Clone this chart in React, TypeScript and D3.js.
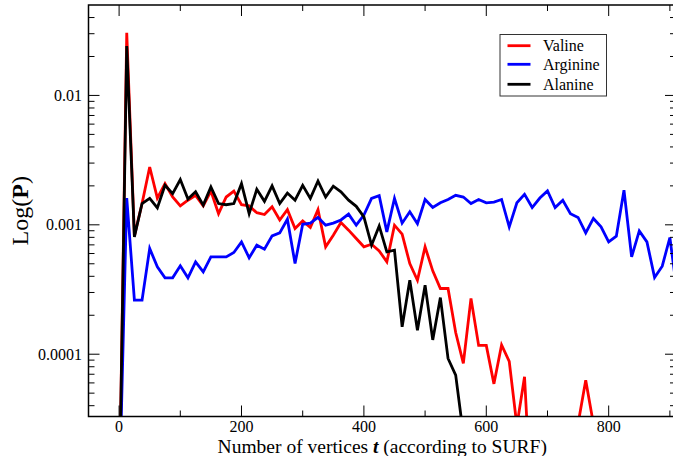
import React from "react";
import * as d3 from "d3";

// Probability of each residue type vs. number of vertices t (log scale).
const T_STEP = 12.5;

const valine: (number | null)[] = [
  6e-6, 0.0305, 0.00082, 0.00146, 0.0028, 0.00161, 0.00208, 0.00164, 0.0014, 0.00155,
  0.00169, 0.0014, 0.00182, 0.00122, 0.00164, 0.00182, 0.00143, 0.0014, 0.00124, 0.0012,
  0.00138, 0.00109, 0.00131, 0.000936, 0.00107, 0.000953, 0.00131, 0.000676, 0.000831, 0.00104,
  0.000909, 0.000783, 0.000676, 0.000708, 0.000629, 0.000517, 0.000993, 0.000846, 0.000502, 0.000373,
  0.000676, 0.000441, 0.000322, 0.000322, 0.000147, 0.0000849, 0.00027, 0.000117, 0.000117, 0.000059,
  0.000118, 0.000088, 0.000028, 0.000067, 5e-6, null, null, null, null, null,
  0.000029, 0.000063, 0.000029,
];

const arginine: (number | null)[] = [
  7e-6, 0.00161, 0.000262, 0.000262, 0.000656, 0.000473, 0.000389, 0.000389, 0.000482, 0.000389,
  0.000517, 0.000433, 0.000565, 0.000565, 0.000565, 0.000611, 0.000738, 0.000556, 0.000696, 0.000648,
  0.000822, 0.000867, 0.001105, 0.000502, 0.00101, 0.00103, 0.00114, 0.000993, 0.00103, 0.00109,
  0.00121, 0.000993, 0.00119, 0.0016, 0.00168, 0.000882, 0.0016, 0.00103, 0.00126, 0.00102,
  0.00157, 0.00136, 0.00148, 0.00157, 0.00169, 0.00164, 0.00146, 0.00157, 0.00148, 0.0015,
  0.00157, 0.000964, 0.00148, 0.00172, 0.00136, 0.00161, 0.00183, 0.00136, 0.00155, 0.00122,
  0.00114, 0.000867, 0.00112, 0.000964, 0.000738, 0.000817, 0.00185, 0.000565, 0.000898, 0.000738,
  0.000392, 0.000479, 0.000798, 0.00028,
];

const alanine: (number | null)[] = [
  6e-6, 0.0241, 0.000807, 0.00146, 0.0016, 0.00135, 0.00202, 0.00174, 0.00224, 0.00158,
  0.0018, 0.00142, 0.00196, 0.00146, 0.00143, 0.00146, 0.00208, 0.00122, 0.00188, 0.00152,
  0.002, 0.00146, 0.00176, 0.00155, 0.00202, 0.0016, 0.00218, 0.00164, 0.00199, 0.0018,
  0.00155, 0.00139, 0.00115, 0.000696, 0.00098, 0.000618, 0.000637, 0.000163, 0.000373, 0.000153,
  0.000342, 0.000129, 0.000274, 0.0000927, 0.000069, 0.000024,
];

const seriesNames = ["Valine", "Arginine", "Alanine"];
const seriesColors = ["#ff0000", "#0000ff", "#000000"];
const seriesValues = [valine, arginine, alanine];

const xTickLabels = [0, 200, 400, 600, 800];
const xMinorTicks = [100, 300, 500, 700, 900];
const yTickValues = [1e-4, 1e-3, 1e-2];
const yTickLabels = ["0.0001", "0.001", "0.01"];

const W = 673;
const H = 456;
const LEFT = 88.5;
const RIGHT = 676;
const TOP = 5;
const BOTTOM = 416.5;
const FONT = "'Liberation Serif', 'Times New Roman', serif";

export default function App() {
  const x = d3.scaleLinear().domain([-50, 910]).range([LEFT, RIGHT]);
  const y = d3.scaleLog().domain([3.3e-5, 0.05]).range([BOTTOM, TOP]);

  const line = d3
    .line<[number, number | null]>()
    .defined((d) => d[1] !== null)
    .x((d) => x(d[0]))
    .y((d) => y(d[1] as number));

  // log minor ticks 2..9 per decade inside the y domain
  const yMinor: number[] = [];
  for (let e = -5; e <= -1; e++) {
    for (let m = 2; m <= 9; m++) {
      const v = m * Math.pow(10, e);
      if (v > 3.3e-5 && v < 0.05) yMinor.push(v);
    }
  }

  const MAJ = 11;
  const MIN = 6;

  const legendX = 500;
  const legendY = 34.5;
  const legendRows = [45.7, 64.3, 84.3];

  return (
    <svg
      width={W}
      height={H}
      style={{ position: "absolute", left: 0, top: 0, background: "#fff" }}
      fontFamily={FONT}
    >
      <defs>
        <clipPath id="plot-clip">
          <rect x={LEFT} y={TOP} width={RIGHT - LEFT} height={BOTTOM - TOP} />
        </clipPath>
      </defs>
      <rect width={W} height={H} fill="#fff" />

      {/* series */}
      <g clipPath="url(#plot-clip)">
        {seriesValues.map((vals, i) => (
          <path
            key={seriesNames[i]}
            d={line(vals.map((v, k) => [k * T_STEP, v] as [number, number | null])) || ""}
            fill="none"
            stroke={seriesColors[i]}
            strokeWidth={2.8}
          />
        ))}
      </g>

      {/* ticks */}
      <g stroke="#000" strokeWidth={1}>
        {xTickLabels.map((t) => (
          <g key={"xM" + t}>
            <line x1={x(t)} x2={x(t)} y1={BOTTOM} y2={BOTTOM - MAJ} />
            <line x1={x(t)} x2={x(t)} y1={TOP} y2={TOP + MAJ} />
          </g>
        ))}
        {xMinorTicks.map((t) => (
          <g key={"xm" + t}>
            <line x1={x(t)} x2={x(t)} y1={BOTTOM} y2={BOTTOM - MIN} />
            <line x1={x(t)} x2={x(t)} y1={TOP} y2={TOP + MIN} />
          </g>
        ))}
        {yTickValues.map((v) => (
          <g key={"yM" + v}>
            <line x1={LEFT} x2={LEFT + MAJ} y1={y(v)} y2={y(v)} />
            <line x1={RIGHT} x2={RIGHT - MAJ} y1={y(v)} y2={y(v)} />
          </g>
        ))}
        {yMinor.map((v) => (
          <g key={"ym" + v}>
            <line x1={LEFT} x2={LEFT + MIN} y1={y(v)} y2={y(v)} />
            <line x1={RIGHT} x2={RIGHT - MIN} y1={y(v)} y2={y(v)} />
          </g>
        ))}
      </g>

      {/* frame */}
      <rect
        x={LEFT}
        y={TOP}
        width={RIGHT - LEFT}
        height={BOTTOM - TOP}
        fill="none"
        stroke="#000"
        strokeWidth={1.5}
      />

      {/* tick labels */}
      <g fontSize={16} fill="#000">
        {xTickLabels.map((t) => (
          <text key={"xl" + t} x={x(t)} y={432} textAnchor="middle">
            {t}
          </text>
        ))}
        {yTickValues.map((v, i) => (
          <text key={"yl" + v} x={82} y={y(v) + 5.5} textAnchor="end">
            {yTickLabels[i]}
          </text>
        ))}
      </g>

      {/* axis titles */}
      <text x={(LEFT + RIGHT) / 2} y={453} textAnchor="middle" fontSize={19.5} fill="#000">
        Number of vertices{" "}
        <tspan fontWeight="bold" fontStyle="italic">
          t
        </tspan>{" "}
        (according to SURF)
      </text>
      <text
        transform={`translate(28, ${(TOP + BOTTOM) / 2}) rotate(-90)`}
        textAnchor="middle"
        fontSize={24}
        fill="#000"
      >
        Log(<tspan fontWeight="bold">P</tspan>)
      </text>

      {/* legend */}
      <rect
        x={legendX}
        y={legendY}
        width={106.5}
        height={61.5}
        fill="#fff"
        stroke="#333"
        strokeWidth={1}
      />
      {seriesNames.map((name, i) => (
        <g key={"lg" + name}>
          <line
            x1={507.5}
            x2={530.5}
            y1={legendRows[i]}
            y2={legendRows[i]}
            stroke={seriesColors[i]}
            strokeWidth={2.8}
          />
          <text x={543} y={legendRows[i] + 5.5} fontSize={16} fill="#000">
            {name}
          </text>
        </g>
      ))}
    </svg>
  );
}
